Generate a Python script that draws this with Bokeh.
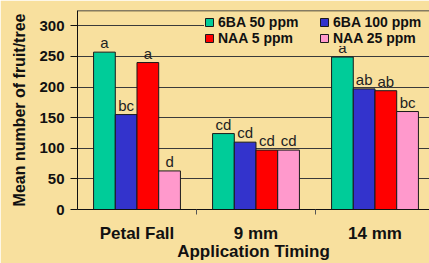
from bokeh.plotting import figure
from bokeh.models import Range1d, FixedTicker, Legend, LegendItem, Span, ColumnDataSource
from bokeh.core.properties import value
from bokeh.embed import file_html
from bokeh.resources import INLINE

# ---- data ----
categories = ["Petal Fall", "9 mm", "14 mm"]
series_names = ["6BA 50 ppm", "6BA 100 ppm", "NAA 5 ppm", "NAA 25 ppm"]
ba50 = [257, 124, 249]
ba100 = [155, 110, 197]
naa5 = [240, 97, 194]
naa25 = [63, 97, 160]
ba50_letters = ["a", "cd", "a"]
ba100_letters = ["bc", "cd", "ab"]
naa5_letters = ["a", "cd", "ab"]
naa25_letters = ["d", "cd", "bc"]
y_ticks = [0, 50, 100, 150, 200, 250, 300]

colors = ["#00CC99", "#3333CC", "#FF0000", "#FF99CC"]
BG = "#F8E09E"
FONT = "Liberation Sans"

series = [ba50, ba100, naa5, naa25]
letters = [ba50_letters, ba100_letters, naa5_letters, naa25_letters]

p = figure(width=429, height=263, output_backend="svg", toolbar_location=None,
           x_range=Range1d(0, 2.958), y_range=Range1d(0, 325),
           min_border_left=77, min_border_right=0, min_border_top=10, min_border_bottom=52)
p.background_fill_color = BG
p.border_fill_color = BG
p.outline_line_color = None
p.xgrid.grid_line_color = None
p.ygrid.grid_line_color = "#3a3a3a"
p.ygrid.grid_line_width = 1
p.ygrid.ticker = FixedTicker(ticks=y_ticks[1:])

centers = [i + 0.5 for i in range(len(categories))]
bw = 0.1825
offsets = [-1.5 * bw, -0.5 * bw, 0.5 * bw, 1.5 * bw]

renderers = []
for vals, let, col, off in zip(series, letters, colors, offsets):
    xs = [c + off for c in centers]
    src = ColumnDataSource(dict(x=xs, top=vals, lab=let))
    r = p.vbar(x="x", top="top", width=bw, source=src, fill_color=col,
               line_color="#1a1a1a", line_width=1)
    renderers.append(r)
    p.text(x="x", y="top", text="lab", source=src, text_align="center",
           text_baseline="bottom", y_offset=-1, text_font=value(FONT),
           text_font_size="15px", text_color="#222222")

# top border
p.add_layout(Span(location=325, dimension="width", line_color="#111111", line_width=1.5))

# x axis
xa = p.xaxis[0]
xa.ticker = FixedTicker(ticks=centers, minor_ticks=[1, 2])
xa.major_label_overrides = {c: n for c, n in zip(centers, categories)}
xa.major_tick_out = 0
xa.major_tick_in = 0
xa.minor_tick_out = 5
xa.minor_tick_in = 0
xa.minor_tick_line_color = "#555555"
xa.axis_line_color = "#111111"
xa.major_label_standoff = 9
xa.major_label_text_font = FONT
xa.major_label_text_font_style = "bold"
xa.major_label_text_font_size = "17px"
xa.major_label_text_color = "#111111"
xa.axis_label = "Application Timing"
xa.axis_label_text_font = FONT
xa.axis_label_text_font_style = "bold"
xa.axis_label_text_font_size = "17px"
xa.axis_label_text_color = "#111111"
xa.axis_label_standoff = -4

# y axis
ya = p.yaxis[0]
ya.ticker = FixedTicker(ticks=y_ticks, minor_ticks=[])
ya.major_tick_out = 7
ya.major_tick_in = 0
ya.axis_line_color = "#111111"
ya.major_tick_line_color = "#111111"
ya.major_label_standoff = 6
ya.major_label_text_font = FONT
ya.major_label_text_font_style = "bold"
ya.major_label_text_font_size = "15px"
ya.major_label_text_color = "#111111"
ya.axis_label = "Mean number of fruit/tree"
ya.axis_label_text_font = FONT
ya.axis_label_text_font_style = "bold"
ya.axis_label_text_font_size = "16px"
ya.axis_label_text_color = "#111111"
ya.axis_label_standoff = 8

# legend: column-major order so that rows read 6BA 50 / 6BA 100, NAA 5 / NAA 25
order = [0, 2, 1, 3]
items = [LegendItem(label=series_names[i], renderers=[renderers[i]]) for i in order]
legend = Legend(items=items, ncols=2, location=(127, 163),
                background_fill_color=BG, background_fill_alpha=1,
                border_line_color=None, padding=0, margin=0, spacing=-2,
                glyph_width=10, glyph_height=10, label_height=14, label_width=101,
                label_standoff=4, label_text_font=FONT, label_text_font_style="bold",
                label_text_font_size="14px", label_text_color="#111111")
p.add_layout(legend, "center")

html = file_html(p, INLINE)
html = html.replace("<body>", '<body style="background:%s">' % BG, 1)
open("out.html", "w").write(html)
